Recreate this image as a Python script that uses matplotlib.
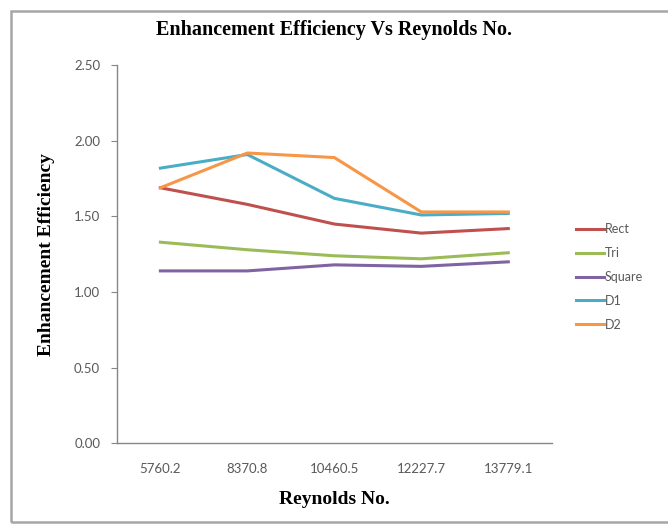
import matplotlib.pyplot as plt
from matplotlib.patches import Rectangle

# Reynolds numbers (categories) and enhancement efficiency per insert shape
reynolds = ['5760.2', '8370.8', '10460.5', '12227.7', '13779.1']
rect = [1.69, 1.58, 1.45, 1.39, 1.42]
tri = [1.33, 1.28, 1.24, 1.22, 1.26]
square = [1.14, 1.14, 1.18, 1.17, 1.20]
d1 = [1.82, 1.91, 1.62, 1.51, 1.52]
d2 = [1.69, 1.92, 1.89, 1.53, 1.53]

series = [('Rect', rect, '#C0504D'),
          ('Tri', tri, '#9BBB59'),
          ('Square', square, '#8064A2'),
          ('D1', d1, '#4BACC6'),
          ('D2', d2, '#F79646')]

fig = plt.figure(figsize=(6.68, 5.27), dpi=100)
ax = fig.add_axes([0.175, 0.159, 0.651, 0.717])

x = list(range(len(reynolds)))
for name, vals, col in series:
    ax.plot(x, vals, color=col, lw=2.2, label=name, solid_joinstyle='round')

ax.set_xlim(-0.5, len(reynolds) - 0.5)
ax.set_ylim(0, 2.5)
ax.set_yticks([0, 0.5, 1.0, 1.5, 2.0, 2.5])
ax.set_yticklabels(['%.2f' % v for v in [0, 0.5, 1.0, 1.5, 2.0, 2.5]])
ax.set_xticks(x)
ax.set_xticklabels(reynolds)

for s in ['top', 'right']:
    ax.spines[s].set_visible(False)
for s in ['left', 'bottom']:
    ax.spines[s].set_color('#868686')
    ax.spines[s].set_linewidth(1)

ax.tick_params(axis='y', length=4, color='#868686', labelsize=9.5,
               labelcolor='#595959', pad=8)
ax.tick_params(axis='x', length=0, labelsize=9.5, labelcolor='#595959', pad=14)
for lab in ax.get_xticklabels() + ax.get_yticklabels():
    lab.set_family('Lato')

ax.set_title('Enhancement Efficiency Vs Reynolds No.', fontsize=14.5,
             fontweight='bold', family='Liberation Serif', pad=22)
ax.set_xlabel('Reynolds No.', fontsize=14, fontweight='bold',
              family='Liberation Serif', labelpad=12)
ax.set_ylabel('Enhancement Efficiency', fontsize=14, fontweight='bold',
              family='Liberation Serif', labelpad=14)

leg = ax.legend(loc='center left', bbox_to_anchor=(1.03, 0.44), frameon=False,
                handlelength=2.2, handletextpad=0.1, labelspacing=0.95,
                prop={'family': 'Lato', 'size': 9})
for t in leg.get_texts():
    t.set_color('#595959')

# outer chart border
fig.patches.append(Rectangle((11 / 668, 5 / 527), 1.0, 1 - 16 / 527,
                             transform=fig.transFigure, fill=False,
                             edgecolor='#a6a6a6', lw=1.8))

fig.savefig('out.png', dpi=100)
